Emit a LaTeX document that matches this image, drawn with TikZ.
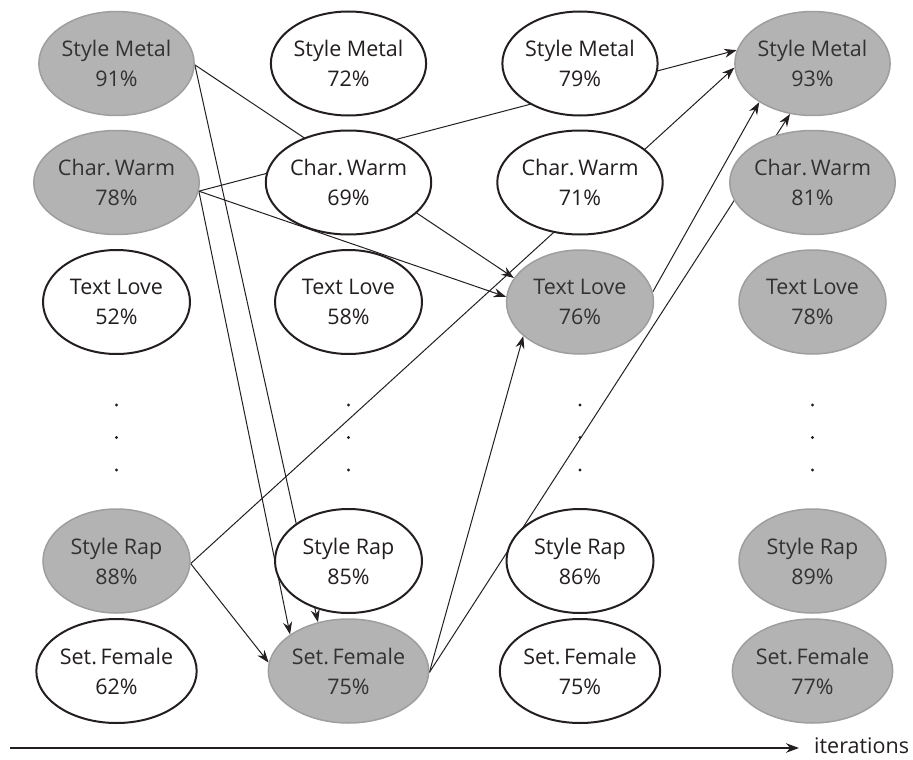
\documentclass[tikz,border=0pt]{standalone}
\usepackage{fontspec}
\setmainfont{Open Sans}
\usetikzlibrary{shapes.geometric,arrows.meta,calc}
\pgfdeclarelayer{bg}
\pgfsetlayers{bg,main}
\definecolor{fillg}{RGB}{179,179,179}
\definecolor{edgeg}{RGB}{158,158,158}
\definecolor{txtg}{RGB}{50,50,50}
\definecolor{txtk}{RGB}{35,31,32}
\begin{document}
\begin{tikzpicture}[x=1pt,y=-1pt,
  var/.style={ellipse, minimum width=147pt, minimum height=104pt, inner sep=0pt, align=center, font=\fontsize{21.5}{30}\selectfont},
  on/.style={var, fill=fillg, draw=edgeg, line width=1.5pt, text=txtg},
  off/.style={var, fill=white, draw=txtk, line width=2pt, text=txtk},
  link/.style={line width=1pt, draw=txtk, -{Stealth[length=12.5pt,width=9pt]}},
  dotm/.style={circle, fill=txtk, inner sep=0pt, minimum size=3.2pt}]
\useasboundingbox (0,0) rectangle (913,760);
% column 1
\node[on]  (a1) at (116.5,63.5) {Style Metal\\91\%};
\node[on]  (a2) at (116.5,182.5) {Char.\,Warm\\78\%};
\node[off] (a3) at (116.5,302) {Text Love\\52\%};
\node[on]  (a5) at (116.5,561) {Style Rap\\88\%};
\node[off] (a6) at (116.5,671) {Set.\,Female\\62\%};
% column 2
\node[off] (b1) at (348.5,63.5) {Style Metal\\72\%};
\node[off] (b2) at (348.5,182.5) {Char.\,Warm\\69\%};
\node[off] (b3) at (348.5,302) {Text Love\\58\%};
\node[off] (b5) at (348.5,561) {Style Rap\\85\%};
\node[on]  (b6) at (348.5,671) {Set.\,Female\\75\%};
% column 3
\node[off] (c1) at (580,63.5) {Style Metal\\79\%};
\node[off] (c2) at (580,182.5) {Char.\,Warm\\71\%};
\node[on]  (c3) at (580,302) {Text Love\\76\%};
\node[off] (c5) at (580,561) {Style Rap\\86\%};
\node[off] (c6) at (580,671) {Set.\,Female\\75\%};
% column 4
\node[on] (d1) at (812.5,63.5) {Style Metal\\93\%};
\node[on] (d2) at (812.5,182.5) {Char.\,Warm\\81\%};
\node[on] (d3) at (812.5,302) {Text Love\\78\%};
\node[on] (d5) at (812.5,561) {Style Rap\\89\%};
\node[on] (d6) at (812.5,671) {Set.\,Female\\77\%};
% dots
\foreach \x/\n in {116.5/a,348.5/b,580/c,812.5/d}{
  \node[dotm] (\n d1) at (\x,405) {};
  \node[dotm] (\n d2) at (\x,437.5) {};
  \node[dotm] (\n d3) at (\x,470) {};
}
% connectors
\begin{pgfonlayer}{bg}
\draw[link] (a1.-1) -- (c3.160);
\draw[link] (a2.-6) -- (d1.170);
\draw[link] (a2.-6) -- (c3.176);
\draw[link] (a2.-6) -- (b6.148);
\draw[link] (a1.-1) -- (b6.122);
\draw[link] (a5.-2) -- (d1.183);
\draw[link] (a5.-2) -- (b6.174);
\draw[link] (b6.-1) -- (c3.211);
\draw[link] (b6.-1) -- (d1.246);
\draw[link] (c3.8) -- (d1.216);
\end{pgfonlayer}
% iterations axis
\coordinate (st) at (10,748);
\node[anchor=west, inner sep=0pt, font=\fontsize{21.5}{25}\selectfont, text=txtk] (it) at (814,746) {iterations};
\draw[line width=1.6pt, draw=txtk, -{Stealth[length=13pt,width=9.5pt]}] (st) -- ($(it.west)+(-15,2)$);
\end{tikzpicture}
\end{document}
